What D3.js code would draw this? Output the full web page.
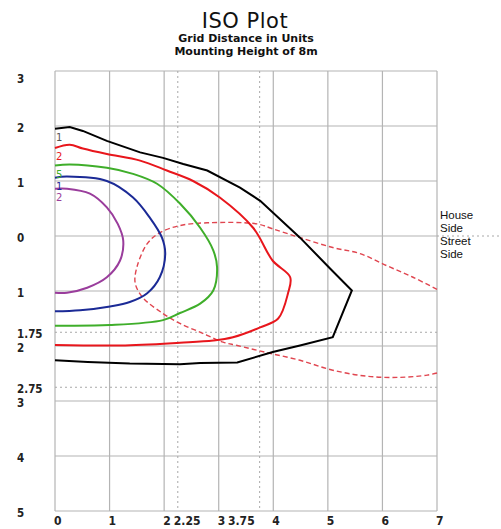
<!DOCTYPE html>
<html>
<head>
<meta charset="utf-8">
<script src="https://cdn.jsdelivr.net/npm/d3@7"></script>
<style>
body{margin:0;background:#fff;}
</style>
</head>
<body>
<div id="chart"></div>
<script>
// tick values
var xTicks = [0, 1, 2, 3, 4, 5, 6, 7];
var xExtraTicks = [2.25, 3.75];
var yTicks = [3, 2, 1, 0, -1, -2, -3, -4, -5];
var yExtraTicks = [-1.75, -2.75];

// iso lines, [distance, offset] in grid units
var line01 = [[0,1.95],[0.27,1.98],[0.51,1.91],[0.95,1.73],[1.56,1.52],[1.98,1.42],[2.35,1.31],[2.79,1.19],[3.39,0.88],[3.76,0.64],[4.49,-0.03],[5.04,-0.59],[5.44,-0.99],[5.09,-1.84],[4.49,-1.99],[3.99,-2.11],[3.34,-2.30],[2.66,-2.31],[2.29,-2.33],[1.37,-2.32],[0.6,-2.29],[0,-2.26]];
var line02 = [[0,1.60],[0.27,1.66],[0.51,1.59],[0.95,1.49],[1.56,1.37],[2.05,1.19],[2.53,1.00],[3.02,0.70],[3.63,0.15],[3.99,-0.45],[4.31,-0.75],[4.27,-1.04],[4.09,-1.50],[3.76,-1.66],[3.26,-1.84],[2.90,-1.90],[2.29,-1.94],[1.2,-1.99],[0,-1.98]];
var line05 = [[0,1.28],[0.27,1.30],[0.95,1.24],[1.43,1.13],[1.87,0.95],[2.29,0.59],[2.66,0.15],[2.90,-0.26],[2.97,-0.57],[2.90,-0.99],[2.66,-1.23],[2.29,-1.40],[1.98,-1.53],[1.0,-1.62],[0,-1.63]];
var line1 = [[0,1.06],[0.22,1.08],[0.95,1.00],[1.43,0.70],[1.74,0.33],[1.96,-0.03],[2.02,-0.32],[1.92,-0.75],[1.69,-1.04],[1.37,-1.20],[1.01,-1.28],[0.46,-1.35],[0,-1.37]];
var line2 = [[0,0.86],[0.22,0.86],[0.64,0.77],[0.95,0.52],[1.15,0.22],[1.25,-0.08],[1.19,-0.45],[0.95,-0.75],[0.59,-0.94],[0.22,-1.03],[0,-1.03]];
var lineDash = [[7,-0.97],[6.56,-0.75],[6.08,-0.54],[5.59,-0.32],[5.09,-0.21],[4.49,-0.03],[3.99,0.13],[3.70,0.22],[2.79,0.24],[2.29,0.19],[1.92,0.06],[1.69,-0.14],[1.50,-0.57],[1.47,-0.86],[1.61,-1.12],[1.98,-1.41],[2.29,-1.59],[2.71,-1.77],[3.08,-1.93],[3.34,-1.99],[3.88,-2.12],[4.49,-2.26],[5.09,-2.44],[5.72,-2.55],[6.32,-2.57],[6.82,-2.53],[7,-2.49]];

var isoNames = [".1", ".2", ".5", "1", "2"];
var isoLines = [line01, line02, line05, line1, line2];
var isoColors = ["#000000", "#e8161c", "#3fae2a", "#1b2a96", "#9a3d9c"];
var labelColors = ["#555555", "#e8161c", "#3fae2a", "#1b2a96", "#9a3d9c"];

var width = 501, height = 529;
var svg = d3.select("#chart").append("svg")
	.attr("width", width)
	.attr("height", height);

var x = d3.scaleLinear().domain([0, 7]).range([55, 437]);
var y = d3.scaleLinear().domain([3, -5]).range([71, 511]);

// titles
svg.append("text")
	.attr("x", 245).attr("y", 28)
	.attr("text-anchor", "middle")
	.style("font-family", "'DejaVu Sans', Verdana, sans-serif")
	.style("font-size", "21px")
	.style("letter-spacing", "0.5px")
	.attr("fill", "#111")
	.text("ISO Plot");
svg.append("text")
	.attr("x", 246).attr("y", 42)
	.attr("text-anchor", "middle")
	.style("font-family", "'DejaVu Sans', sans-serif")
	.style("font-weight", "bold")
	.style("font-size", "11px")
	.attr("fill", "#111")
	.text("Grid Distance in Units");
svg.append("text")
	.attr("x", 246).attr("y", 55)
	.attr("text-anchor", "middle")
	.style("font-family", "'DejaVu Sans', sans-serif")
	.style("font-weight", "bold")
	.style("font-size", "11px")
	.attr("fill", "#111")
	.text("Mounting Height of 8m");

// grid
var grid = svg.append("g");
grid.selectAll("line.v").data(xTicks).enter().append("line")
	.attr("x1", function(d){ return x(d); })
	.attr("x2", function(d){ return x(d); })
	.attr("y1", y(3)).attr("y2", y(-5))
	.attr("stroke", "#b4b4b4").attr("stroke-width", 1.2);
grid.selectAll("line.h").data(yTicks).enter().append("line")
	.attr("x1", x(0)).attr("x2", x(7))
	.attr("y1", function(d){ return y(d); })
	.attr("y2", function(d){ return y(d); })
	.attr("stroke", "#b4b4b4").attr("stroke-width", 1.2);
grid.selectAll("line.vd").data(xExtraTicks).enter().append("line")
	.attr("x1", function(d){ return x(d); })
	.attr("x2", function(d){ return x(d); })
	.attr("y1", y(3)).attr("y2", y(-5))
	.attr("stroke", "#a8a8a8").attr("stroke-width", 1)
	.attr("stroke-dasharray", "2,3");
grid.selectAll("line.hd").data(yExtraTicks).enter().append("line")
	.attr("x1", x(0)).attr("x2", x(7))
	.attr("y1", function(d){ return y(d); })
	.attr("y2", function(d){ return y(d); })
	.attr("stroke", "#a8a8a8").attr("stroke-width", 1)
	.attr("stroke-dasharray", "2,3");
// house / street divider beyond the plot
grid.append("line")
	.attr("x1", x(7)).attr("x2", width)
	.attr("y1", y(0)).attr("y2", y(0))
	.attr("stroke", "#a8a8a8").attr("stroke-width", 1)
	.attr("stroke-dasharray", "2,3");

// axis labels
var axisFont = "'DejaVu Sans Condensed', 'Liberation Sans Narrow', sans-serif";
svg.selectAll("text.ylab").data(yTicks.concat(yExtraTicks)).enter().append("text")
	.attr("x", 17)
	.attr("y", function(d){ return y(d) + (d == 3 ? 8 : 2); })
	.attr("dy", "0.35em")
	.style("font-family", axisFont)
	.style("font-weight", "bold")
	.style("font-size", "11.5px")
	.attr("fill", "#222")
	.text(function(d){ return String(Math.abs(d)); });
svg.selectAll("text.xlab").data(xTicks.concat(xExtraTicks)).enter().append("text")
	.attr("x", function(d){
		if(d == 2.25) return x(d) - 4;
		if(d == 3.75) return x(d) - 5;
		return x(d) - 1;
	})
	.attr("y", 525)
	.attr("text-anchor", function(d){ return d == 3.75 ? "end" : "start"; })
	.style("font-family", axisFont)
	.style("font-weight", "bold")
	.style("font-size", "12px")
	.attr("fill", "#222")
	.text(function(d){ return String(d); });

// side notes
var notes = ["House", "Side", "Street", "Side"];
svg.selectAll("text.note").data(notes).enter().append("text")
	.attr("x", 440)
	.attr("y", function(d, i){ return 219 + i * 13; })
	.style("font-family", "'Liberation Sans', Arial, sans-serif")
	.style("font-size", "11.5px")
	.attr("fill", "#111")
	.text(function(d){ return d; });

// iso lines
var smooth = d3.line()
	.x(function(d){ return x(d[0]); })
	.y(function(d){ return y(d[1]); })
	.curve(d3.curveCatmullRom.alpha(0.5));
var sharp = d3.line()
	.x(function(d){ return x(d[0]); })
	.y(function(d){ return y(d[1]); });

svg.append("path")
	.attr("d", smooth(lineDash))
	.attr("fill", "none")
	.attr("stroke", "#e0454f")
	.attr("stroke-width", 1.4)
	.attr("stroke-dasharray", "5,3");

svg.selectAll("path.iso").data(isoLines).enter().append("path")
	.attr("d", function(d, i){ return i == 0 ? sharp(d) : smooth(d); })
	.attr("fill", "none")
	.attr("stroke", function(d, i){ return isoColors[i]; })
	.attr("stroke-width", 2);

// line labels at the left edge
svg.selectAll("text.iso").data(isoNames).enter().append("text")
	.attr("x", x(0) + 1)
	.attr("y", function(d, i){ return y(isoLines[i][0][1]) + 12; })
	.style("font-family", "'DejaVu Sans', sans-serif")
	.style("font-size", "10px")
	.attr("fill", function(d, i){ return labelColors[i]; })
	.text(function(d){ return d.replace(".", ""); });
</script>
</body>
</html>
